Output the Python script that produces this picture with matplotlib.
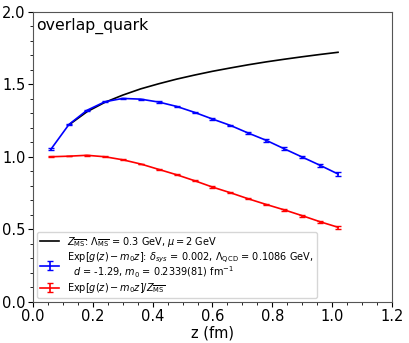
import matplotlib
matplotlib.use('Agg')
import matplotlib.pyplot as plt
import numpy as np
from matplotlib.ticker import MultipleLocator

# lattice separations (fm)
z = [0.06, 0.12, 0.18, 0.24, 0.30, 0.36, 0.42, 0.48, 0.54,
     0.60, 0.66, 0.72, 0.78, 0.84, 0.90, 0.96, 1.02]

# Exp[g(z) - m0 z]
g_val = [1.053, 1.223, 1.320, 1.379, 1.402, 1.397, 1.377, 1.347, 1.306,
         1.260, 1.216, 1.163, 1.113, 1.055, 0.998, 0.941, 0.881]
g_err = [0.004, 0.004, 0.004, 0.004, 0.004, 0.004, 0.004, 0.005, 0.005,
         0.006, 0.006, 0.007, 0.008, 0.009, 0.010, 0.012, 0.016]

# Exp[g(z) - m0 z] / Z_MSbar
r_val = [1.000, 1.004, 1.010, 1.000, 0.979, 0.950, 0.913, 0.876, 0.835,
         0.791, 0.752, 0.710, 0.671, 0.634, 0.594, 0.552, 0.514]
r_err = [0.002, 0.002, 0.002, 0.002, 0.003, 0.003, 0.003, 0.003, 0.003,
         0.004, 0.004, 0.004, 0.005, 0.005, 0.006, 0.007, 0.009]

# Z_MSbar curve
z_msb = [0.12, 0.18, 0.24, 0.30, 0.36, 0.42, 0.48, 0.54,
         0.60, 0.66, 0.72, 0.78, 0.84, 0.90, 0.96, 1.02]
Z_msb = [1.22, 1.31, 1.375, 1.425, 1.468, 1.503, 1.535, 1.563,
         1.589, 1.612, 1.634, 1.654, 1.672, 1.689, 1.705, 1.72]

fig = plt.figure(figsize=(4.09, 3.43), dpi=100)
ax = fig.add_axes([0.081, 0.12, 0.877, 0.846])

l0, = ax.plot(z_msb, Z_msb, color='black', lw=1.2,
              label=r'$Z_{\overline{\rm MS}}$: $\Lambda_{\overline{\rm MS}}$ = 0.3 GeV, $\mu = 2$ GeV')
e1 = ax.errorbar(z, g_val, yerr=g_err, color='blue', lw=1.2, capsize=2.5,
                 label='Exp$[g(z) - m_0 z]$: $\\delta_{sys}$ = 0.002, $\\Lambda_{\\rm QCD}$ = 0.1086 GeV,\n'
                       '  $d$ = -1.29, $m_0$ = 0.2339(81) fm$^{-1}$')
e2 = ax.errorbar(z, r_val, yerr=r_err, color='red', lw=1.2, capsize=2.5,
                 label=r'Exp$[g(z) - m_0 z]/Z_{\overline{\rm MS}}$')

ax.set_xlim(0, 1.2)
ax.set_ylim(0, 2.0)
ax.xaxis.set_major_locator(MultipleLocator(0.2))
ax.xaxis.set_minor_locator(MultipleLocator(0.05))
ax.yaxis.set_major_locator(MultipleLocator(0.5))
ax.yaxis.set_minor_locator(MultipleLocator(0.1))
ax.tick_params(axis='x', labelsize=10.5, pad=2)
ax.tick_params(axis='y', labelsize=10.5, pad=2)
ax.set_xlabel('z (fm)', fontsize=10.5, labelpad=1)
for s in ax.spines.values():
    s.set_color('#555555')

ax.text(0.008, 0.978, 'overlap_quark', transform=ax.transAxes,
        fontsize=11.3, va='top', ha='left')

leg = ax.legend(handles=[l0, e1, e2], loc='lower left', fontsize=7,
                borderaxespad=0.4, labelspacing=0.15, borderpad=0.3)
for t in leg.get_texts():
    t.set_linespacing(0.95)

fig.savefig('out.png')
print('out.png', 'generated')
